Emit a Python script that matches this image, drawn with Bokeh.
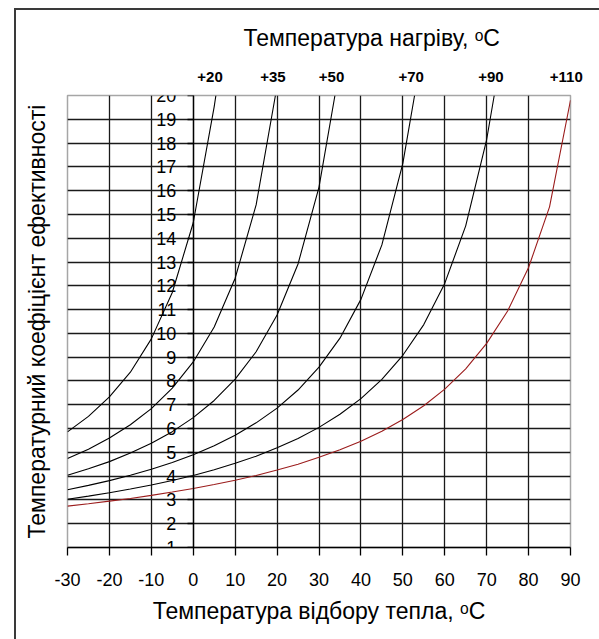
from bokeh.plotting import figure
from bokeh.models import LinearAxis, FixedTicker, Title, Range1d
from bokeh.embed import file_html
from bokeh.resources import INLINE

# ---- data ----
series_labels = ["+20", "+35", "+50", "+70", "+90", "+110"]

t20_x = [-30, -25, -20, -15, -10, -5, 0, 5, 5.4]
t20_y = [5.86, 6.51, 7.33, 8.37, 9.77, 11.72, 14.65, 19.53, 20.0]

t35_x = [-30, -25, -20, -15, -10, -5, 0, 5, 10, 15, 19.6]
t35_y = [4.74, 5.13, 5.60, 6.16, 6.84, 7.70, 8.80, 10.27, 12.32, 15.40, 20.0]

t50_x = [-30, -25, -20, -15, -10, -5, 0, 5, 10, 15, 20, 25, 30, 33.8]
t50_y = [4.04, 4.31, 4.61, 4.97, 5.38, 5.87, 6.46, 7.18, 8.08, 9.23, 10.77, 12.92, 16.15, 20.0]

t70_x = [-30, -25, -20, -15, -10, -5, 0, 5, 10, 15, 20, 25, 30, 35, 40, 45, 50, 52.8]
t70_y = [3.43, 3.61, 3.81, 4.04, 4.29, 4.57, 4.90, 5.28, 5.72, 6.24, 6.86, 7.62, 8.58,
         9.80, 11.43, 13.72, 17.15, 20.0]

t90_x = [-30, -25, -20, -15, -10, -5, 0, 5, 10, 15, 20, 25, 30, 35, 40, 45, 50, 55, 60,
         65, 70, 71.8]
t90_y = [3.03, 3.16, 3.30, 3.46, 3.63, 3.82, 4.03, 4.27, 4.54, 4.84, 5.19, 5.58, 6.05,
         6.60, 7.26, 8.07, 9.08, 10.37, 12.10, 14.52, 18.15, 20.0]

t110_x = [-30, -25, -20, -15, -10, -5, 0, 5, 10, 15, 20, 25, 30, 35, 40, 45, 50, 55, 60,
          65, 70, 75, 80, 85, 90]
t110_y = [2.74, 2.84, 2.95, 3.06, 3.19, 3.33, 3.48, 3.65, 3.83, 4.03, 4.26, 4.50, 4.79,
          5.11, 5.47, 5.89, 6.38, 6.96, 7.66, 8.51, 9.58, 10.94, 12.77, 15.32, 19.8]

x_ticks = [-30, -20, -10, 0, 10, 20, 30, 40, 50, 60, 70, 80, 90]
x_tick_labels = ["-30", "-20", "-10", "0", "10", "20", "30", "40", "50", "60", "70", "80", "90"]
y_ticks = list(range(1, 21))
y_tick_labels = [str(v) for v in y_ticks]

title_top = "Температура нагріву, ᵒC"
title_x = "Температура відбору тепла, ᵒC"
title_y = "Температурний коефіцієнт ефективності"

series_x = [t20_x, t35_x, t50_x, t70_x, t90_x, t110_x]
series_y = [t20_y, t35_y, t50_y, t70_y, t90_y, t110_y]
series_colors = ["black", "black", "black", "black", "black", "#9b1c1c"]

FONT = "Liberation Sans"

p = figure(width=599, height=639, output_backend="svg", toolbar_location=None,
           x_range=Range1d(-30, 90), y_range=Range1d(1, 20),
           min_border_left=67, min_border_right=29, min_border_top=95, min_border_bottom=92)
p.background_fill_color = "white"
p.border_fill_color = None
p.outline_line_color = "#a6a6a6"
p.outline_line_width = 1.5
# outer chart border (top and left edges visible; the rest lies outside the window)
p.styles = {"background-color": "white",
            "box-shadow": "inset 14px 8px 0 0 #ffffff, inset 16px 10px 0 0 #3a3a3a"}

# grids
p.xgrid.ticker = FixedTicker(ticks=x_ticks[1:-1])
p.ygrid.ticker = FixedTicker(ticks=y_ticks[1:-1])
for g in (p.xgrid, p.ygrid):
    g.grid_line_color = "#1a1a1a"
    g.grid_line_width = 1.3

# x axis (bottom)
xa = p.xaxis[0]
xa.ticker = FixedTicker(ticks=x_ticks)
xa.major_label_overrides = {t: l for t, l in zip(x_ticks, x_tick_labels)}
xa.minor_tick_line_color = None
xa.major_tick_in = 0
xa.major_tick_out = 8
xa.major_tick_line_color = "black"
xa.major_tick_line_width = 1.3
xa.axis_line_color = "black"
xa.axis_line_width = 1.3
xa.major_label_text_font = FONT
xa.major_label_text_font_size = "18px"
xa.major_label_text_color = "black"
xa.major_label_standoff = 17
xa.axis_label = title_x
xa.axis_label_text_font = FONT
xa.axis_label_text_font_size = "23px"
xa.axis_label_text_font_style = "normal"
xa.axis_label_text_color = "black"
xa.axis_label_standoff = 9

# y axis crossing at x = 0
ya = p.yaxis[0]
ya.fixed_location = 0
ya.ticker = FixedTicker(ticks=y_ticks)
ya.major_label_overrides = {t: l for t, l in zip(y_ticks, y_tick_labels)}
ya.minor_tick_line_color = None
ya.major_tick_in = 0
ya.major_tick_out = 6
ya.major_tick_line_color = "black"
ya.major_tick_line_width = 1.3
ya.axis_line_color = "black"
ya.axis_line_width = 1.3
ya.major_label_text_font = FONT
ya.major_label_text_font_size = "18px"
ya.major_label_text_color = "black"
ya.major_label_standoff = 11

# curves
for xs, ys, c in zip(series_x, series_y, series_colors):
    p.line(xs, ys, line_color=c, line_width=1.1)

# curve names along the top (at the end of each curve)
top_ticks = [int(round(xs[-1] - 1)) for xs in series_x]
ta = LinearAxis(ticker=FixedTicker(ticks=top_ticks),
                major_label_overrides={t: l for t, l in zip(top_ticks, series_labels)})
ta.axis_line_color = None
ta.major_tick_line_color = None
ta.minor_tick_line_color = None
ta.major_label_text_font = FONT
ta.major_label_text_font_size = "15px"
ta.major_label_text_font_style = "bold"
ta.major_label_text_color = "black"
ta.major_label_standoff = 8
p.add_layout(ta, "above")

# titles
p.add_layout(Title(text=title_top, align="left", offset=176, text_font=FONT,
                   text_font_size="23px", text_font_style="normal", text_color="black",
                   standoff=35), "above")
p.add_layout(Title(text=title_y, align="center", text_font=FONT,
                   text_font_size="23px", text_font_style="normal", text_color="black",
                   standoff=36), "left")

open("out.html", "w").write(file_html(p, INLINE))
